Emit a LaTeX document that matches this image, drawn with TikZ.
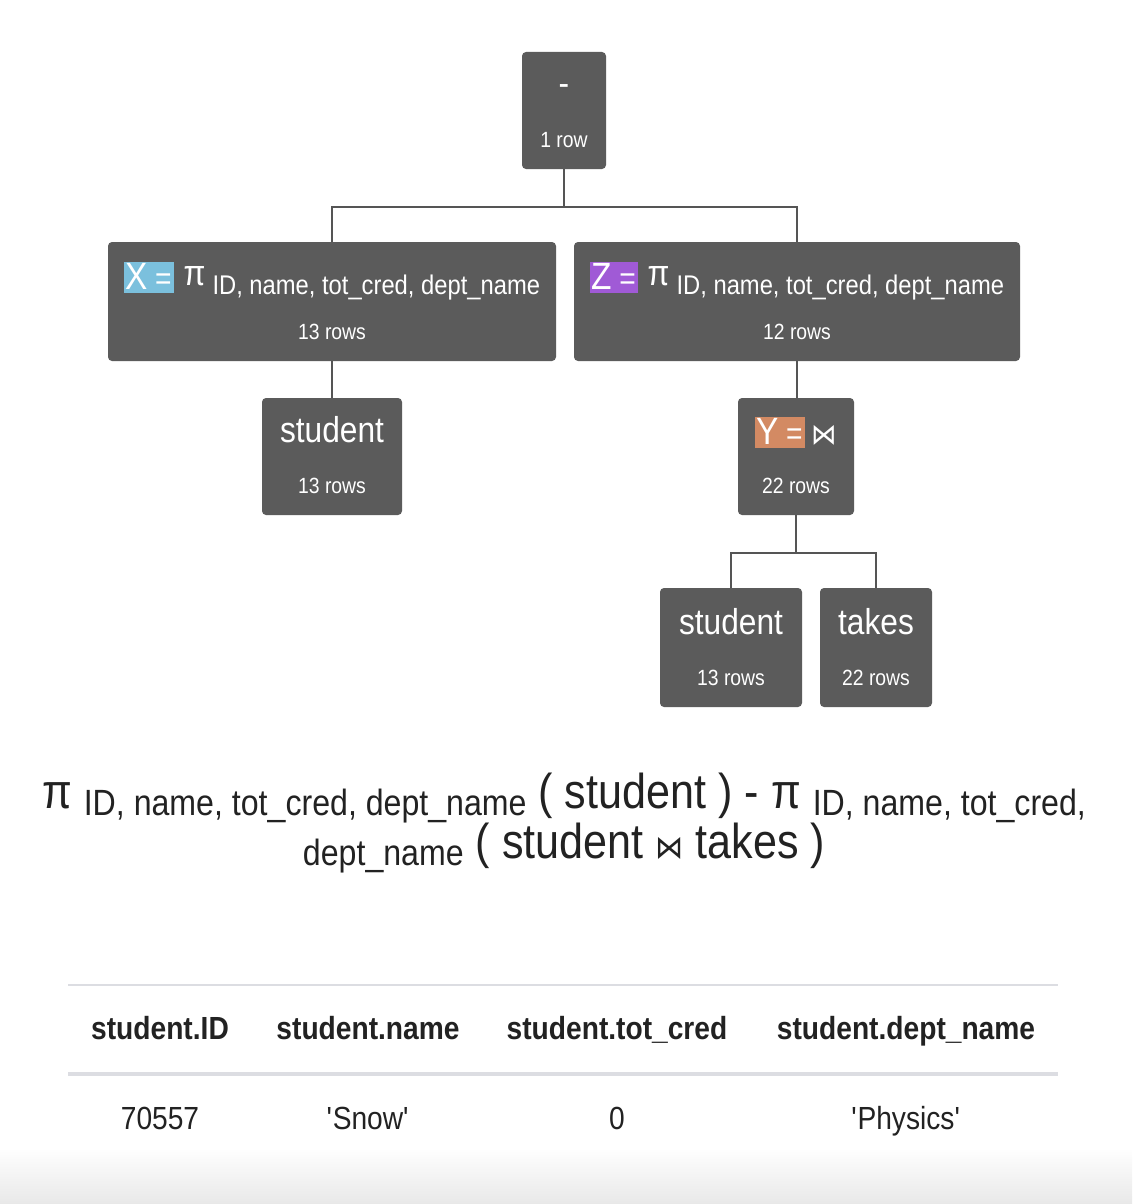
\documentclass[tikz,border=0pt]{standalone}
\usepackage{fontspec}
\setmainfont{Liberation Sans}[FakeStretch=0.88]
\newfontfamily\symfont{DejaVu Sans}[FakeStretch=0.88]
\usetikzlibrary{positioning,calc}

\definecolor{boxgray}{HTML}{5B5B5B}
\definecolor{linegray}{HTML}{555555}
\definecolor{xblue}{HTML}{7BC0DD}
\definecolor{zpurple}{HTML}{A05AD6}
\definecolor{yorange}{HTML}{D38A63}
\definecolor{inkdark}{HTML}{222222}
\definecolor{rulegray}{HTML}{DCDDE2}

\setlength{\fboxsep}{0pt}
\newcommand{\fs}[1]{\fontsize{#1}{#1}\selectfont}
\newcommand{\tagged}[2]{\colorbox{#1}{\rule[-3pt]{0pt}{31pt}\hspace{2pt}{\fs{38}#2}\hspace{7pt}{\fs{32}=}\hspace{2pt}}}
\newcommand{\projsub}{ID, name, tot\_cred, dept\_name}

\begin{document}
\begin{tikzpicture}[x=1pt, y=-1pt,
    opbox/.style={fill=boxgray, rounded corners=4pt, inner sep=0pt},
    optitle/.style={text=white, anchor=base, inner sep=0pt, font=\fs{36}},
    oprows/.style={text=white, anchor=base, inner sep=0pt, font=\fs{22}},
    link/.style={draw=linegray, line width=2pt},
    expr/.style={text=inkdark, anchor=base, inner sep=0pt, font=\fs{49}},
    colhead/.style={text=inkdark, anchor=base, inner sep=0pt, font=\bfseries\fs{32}},
    cell/.style={text=inkdark, anchor=base, inner sep=0pt, font=\fs{32}}]
    \useasboundingbox (0,0) rectangle (1132,1204);
    \fill[white] (0,0) rectangle (1132,1204);
    \shade[top color=white, bottom color=black!9] (0,1148) rectangle (1132,1204);

    % operator boxes
    \node[opbox, minimum width=84, minimum height=117] (diff) at (564,110.5) {};
    \node[opbox, minimum width=448, minimum height=119] (xproj) at (332,301.5) {};
    \node[opbox, minimum width=446, minimum height=119] (zproj) at (797,301.5) {};
    \node[opbox, minimum width=140, minimum height=117] (xbase) at (332,456.5) {};
    \node[opbox, minimum width=116, minimum height=117] (yjoin) at (796,456.5) {};
    \node[opbox, minimum width=142, minimum height=119] (ybase) at (731,647.5) {};
    \node[opbox, minimum width=112, minimum height=119] (ytakes) at (876,647.5) {};

    % box texts
    \node[optitle] (difftitle) at ($(diff.north)+(0,44)$) {-};
    \node[oprows] (diffrows) at ($(diff.south)+(0,-22)$) {1 row};
    \node[optitle] (xtitle) at ($(xproj.north)+(0,48)$)
        {\tagged{xblue}{X}\hspace{10pt}\raisebox{4pt}{π}\hspace{7pt}\raisebox{-5pt}{\fs{27}\projsub}};
    \node[oprows] (xrows) at ($(xproj.south)+(0,-22)$) {13 rows};
    \node[optitle] (ztitle) at ($(zproj.north)+(0,48)$)
        {\tagged{zpurple}{Z}\hspace{10pt}\raisebox{4pt}{π}\hspace{7pt}\raisebox{-5pt}{\fs{27}\projsub}};
    \node[oprows] (zrows) at ($(zproj.south)+(0,-22)$) {12 rows};
    \node[optitle] (xbasetitle) at ($(xbase.north)+(0,45)$) {student};
    \node[oprows] (xbaserows) at ($(xbase.south)+(0,-22)$) {13 rows};
    \node[optitle] (ytitle) at ($(yjoin.north)+(0,47)$)
        {\tagged{yorange}{Y}\hspace{7pt}{\symfont\fs{29}⋈}};
    \node[oprows] (yrows) at ($(yjoin.south)+(0,-22)$) {22 rows};
    \node[optitle] (ybasetitle) at ($(ybase.north)+(0,47)$) {student};
    \node[oprows] (ybaserows) at ($(ybase.south)+(0,-22)$) {13 rows};
    \node[optitle] (ytakestitle) at ($(ytakes.north)+(0,47)$) {takes};
    \node[oprows] (ytakesrows) at ($(ytakes.south)+(0,-22)$) {22 rows};

    % tree links
    \draw[link] (diff.south) -- ++(0,37.5) coordinate (diffsplit);
    \draw[link] (diffsplit) -| (xproj.north);
    \draw[link] (diffsplit) -| (zproj.north);
    \draw[link] (xproj.south) -- (xbase.north);
    \draw[link] (zproj.south) -- (zproj.south |- yjoin.north);
    \draw[link] (yjoin.south) -- ++(0,37.5) coordinate (joinsplit);
    \draw[link] (joinsplit) -| (ybase.north);
    \draw[link] (joinsplit) -| (ytakes.north);

    % expression
    \node[expr] (exprtop) at (564,808)
        {π \raisebox{-7pt}{\fs{36.5}\projsub} ( student ) - π \raisebox{-7pt}{\fs{36.5}ID, name, tot\_cred,}};
    \node[expr] (exprbot) at (564,858)
        {\raisebox{-7pt}{\fs{36.5}dept\_name} ( student {\symfont\fs{32}⋈} takes )};

    % result table
    \draw[rulegray, line width=2pt] (68,985) -- (1058,985);
    \draw[rulegray, line width=3.5pt] (68,1074) -- (1058,1074);
    \foreach \cx/\head/\val [count=\i] in {160/student.ID/70557,
            368/student.name/\textquotesingle Snow\textquotesingle,
            617/student.tot\_cred/0,
            906/student.dept\_name/\textquotesingle Physics\textquotesingle}{
        \node[colhead] (head\i) at (\cx,1039) {\head};
        \node[cell] (cell\i) at (\cx,1129) {\val};
    }
\end{tikzpicture}
\end{document}
